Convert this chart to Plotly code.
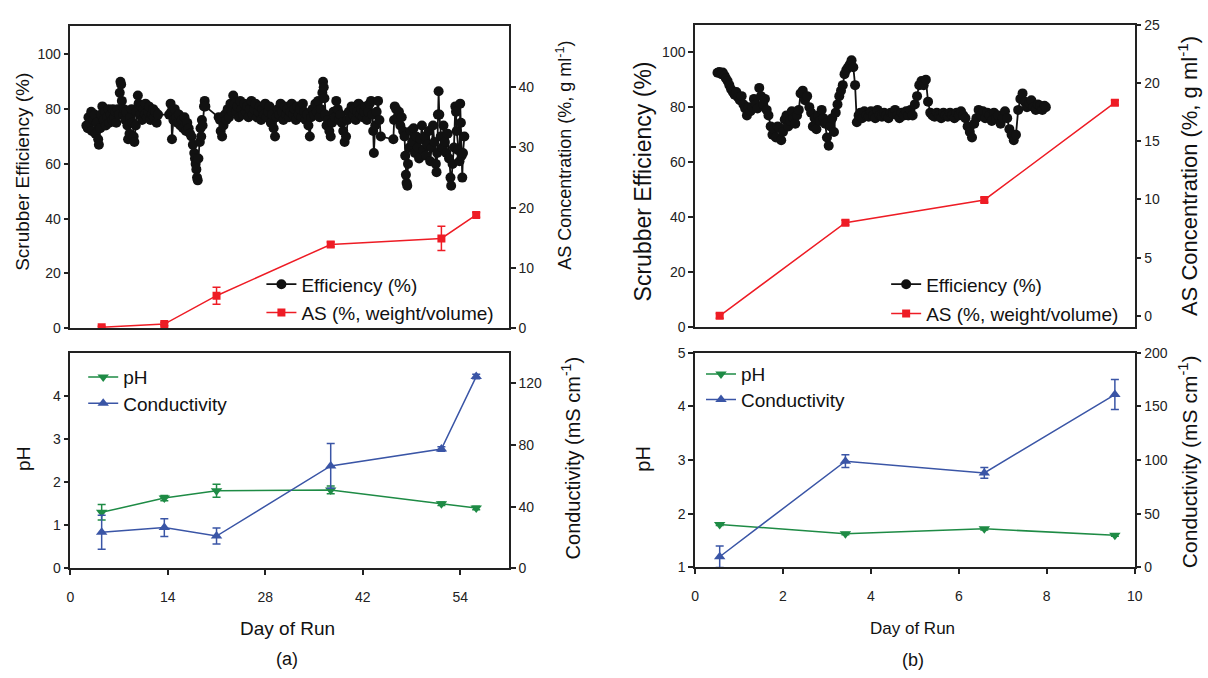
import plotly.graph_objects as go

W, H = 1208, 678


def fx(p):
    return p / W


def fy(p):
    return 1 - p / H


FONT = "Arial, Liberation Sans, sans-serif"
BLACK = "#111111"
RED = "#EE1C25"
GREEN = "#1E8B45"
BLUE = "#3A55A6"

# ---------------- (a) data ----------------
eff_a_day = [
    2.3, 2.5, 2.6, 2.8, 3.0, 3.1, 3.3, 3.5, 3.6, 3.8, 4.0, 4.1, 4.3, 4.4, 4.6, 4.8, 5.0, 5.1, 5.3, 5.5,
    5.6, 5.8, 6.0, 6.1, 6.3, 6.5, 6.6, 6.8, 7.0,
    7.1, 7.2, 7.3, 7.4, 7.6, 7.7, 7.9, 8.0, 8.2, 8.3, 8.5, 8.6, 8.8, 8.9, 9.1, 9.2, 9.4, 9.5, 9.7, 9.8,
    10.0, 10.2, 10.3, 10.5, 10.7, 10.8, 11.0, 11.2, 11.3, 11.5, 11.7, 11.9, 12.0, 12.2, 12.4, 12.6,
    14.2, 14.4, 14.5, 14.6, 14.8, 15.0, 15.2, 15.4, 15.6, 15.8, 16.0, 16.2, 16.4, 16.6, 16.8, 17.0,
    17.2, 17.4, 17.6, 17.8, 17.9, 18.0, 18.1, 18.2, 18.3, 18.4, 18.6, 18.7, 18.8, 18.9, 19.0, 19.2,
    19.3, 19.4,
    21.3, 21.5, 21.6, 21.8, 22.0, 22.2, 22.4, 22.6, 22.8, 23.0, 23.2, 23.4, 23.6, 23.8, 24.0, 24.2,
    24.4, 24.6, 24.8, 25.0, 25.2, 25.4, 25.6, 25.8, 26.0, 26.2, 26.4, 26.6, 26.8, 27.0, 27.2, 27.4,
    27.6, 27.8, 28.0, 28.2, 28.4, 28.6, 28.8, 29.0, 29.2, 29.4, 29.6, 29.8, 30.0, 30.2, 30.4, 30.6,
    30.8, 31.0, 31.2, 31.4, 31.6, 31.8, 32.0, 32.2, 32.4, 32.6, 32.8, 33.0, 33.2, 33.4, 33.6, 33.8,
    34.0, 34.2, 34.4, 34.6, 34.8, 35.0, 35.2, 35.4, 35.6, 35.8, 36.0, 36.2, 36.3, 36.4, 36.5, 36.6,
    36.8, 37.0, 37.2, 37.4, 37.6, 37.8, 38.0, 38.2, 38.4, 38.6, 38.8, 39.0, 39.2, 39.4, 39.6, 39.8,
    40.0, 40.2, 40.4, 40.6, 40.8, 41.0, 41.2, 41.4, 41.6, 41.8, 42.0, 42.2, 42.4, 42.6, 42.8, 43.0,
    43.2, 43.4, 43.5, 43.6, 43.8, 44.0, 44.2, 44.4, 44.6,
    46.4, 46.5, 46.6, 46.8, 47.0, 47.2, 47.4, 47.6, 47.8, 48.0, 48.1, 48.2, 48.3, 48.4, 48.5, 48.7,
    48.9, 49.1, 49.3, 49.5, 49.7, 49.9, 50.1, 50.3, 50.5, 50.7, 50.9, 51.1, 51.3, 51.5, 51.7, 51.9,
    52.1, 52.3, 52.5, 52.6, 52.7, 52.8, 52.9, 53.0, 53.2, 53.4, 53.6, 53.8, 54.0, 54.2, 54.4, 54.6,
    54.7, 54.9, 55.1, 55.3, 55.4, 55.5, 55.7, 55.9, 56.0, 56.1, 56.2, 56.3, 56.4, 56.6,
]
eff_a_val = [
    74, 73, 77, 75, 79, 72, 76, 78, 71, 75, 69, 67, 73, 78, 81, 76, 79, 74, 77, 80,
    75, 78, 76, 80, 77, 79, 75, 80, 78,
    86, 90, 89, 83, 78, 80, 76, 79, 74, 69, 71, 77, 80, 75, 70, 68, 74, 79, 85, 82,
    78, 81, 76, 80, 78, 82, 77, 79, 81, 76, 78, 80, 77, 79, 75, 78,
    78, 82, 79, 69, 76, 80, 77, 75, 78, 74, 76, 73, 77, 72, 75, 73,
    71, 70, 67, 64, 62, 60, 58, 55, 54, 62, 68, 73, 70, 76, 74, 81,
    83, 81,
    77, 76, 72, 70, 74, 78, 76, 80, 77, 82, 79, 85, 82, 79, 81, 77,
    83, 80, 78, 82, 79, 81, 77, 80, 83, 78, 80, 82, 77, 79, 81, 76,
    80, 78, 82, 77, 79, 81, 75, 78, 73, 70, 77, 80, 78, 82, 79, 76,
    81, 78, 80, 77, 79, 82, 78, 80, 76, 81, 78, 80, 77, 82, 79, 76,
    78, 74, 70, 77, 80, 78, 82, 79, 83, 77, 80, 86, 90, 88, 84, 78,
    74, 76, 72, 70, 75, 79, 77, 83, 80, 76, 78, 75, 72, 68, 70, 76,
    79, 77, 81, 78, 80, 76, 79, 82, 78, 80, 77, 79, 81, 76, 79, 82,
    83, 78, 72, 64, 74, 79, 83, 76, 70,
    69, 76, 81, 80, 77, 79, 74, 77, 72, 70, 63, 56, 53, 52, 60, 66,
    72, 68, 73, 64, 70, 66, 62, 69, 74, 65, 70, 63, 67, 72, 61, 66,
    74, 68, 60, 57, 64, 78, 86.5, 78, 70, 66, 74, 68, 64, 71, 62, 55,
    52, 60, 66, 81, 79, 72, 65, 61, 82, 75, 63, 55, 64, 70,
]

samp_a_day = [4.5, 13.5, 21.0, 37.4, 53.3, 58.3]
as_a_val = [0.15, 0.7, 5.4, 13.9, 14.9, 18.8]
as_a_err = [0.2, 0.3, 1.4, 0.4, 2.0, 0.4]
ph_a_val = [1.30, 1.63, 1.80, 1.82, 1.50, 1.40]
ph_a_err = [0.18, 0.06, 0.15, 0.09, 0.04, 0.04]
cond_a_val = [23.5, 26.5, 21.0, 66.5, 77.5, 124.5]
cond_a_err = [11.0, 5.8, 5.2, 14.5, 1.5, 1.5]

# ---------------- (b) data ----------------
eff_b_day = [
    0.51, 0.55, 0.60, 0.63, 0.67, 0.70, 0.74, 0.78, 0.82, 0.86, 0.90, 0.94, 0.98, 1.02, 1.06, 1.10,
    1.14, 1.18, 1.22, 1.26, 1.30, 1.34, 1.38, 1.42, 1.46, 1.50, 1.55, 1.59, 1.63, 1.67, 1.72, 1.76,
    1.80, 1.84, 1.88, 1.92, 1.96, 2.00, 2.04, 2.08, 2.12, 2.16, 2.20, 2.24, 2.28, 2.32, 2.36, 2.40,
    2.45, 2.50, 2.55, 2.60, 2.64, 2.68, 2.72, 2.76, 2.80, 2.84, 2.88, 2.92, 2.96, 3.00, 3.04, 3.08,
    3.12, 3.16, 3.20, 3.24, 3.28, 3.32, 3.36, 3.40, 3.44, 3.48, 3.52, 3.56, 3.60, 3.64, 3.68, 3.72,
    3.76, 3.80, 3.85, 3.90, 3.95, 4.00, 4.05, 4.10, 4.15, 4.20, 4.25, 4.30, 4.35, 4.40, 4.45, 4.50,
    4.55, 4.60, 4.65, 4.70, 4.75, 4.80, 4.85, 4.90, 4.95, 5.00, 5.05, 5.10, 5.15, 5.20, 5.25, 5.30,
    5.35, 5.40, 5.45, 5.50, 5.55, 5.60, 5.65, 5.70, 5.75, 5.80, 5.85, 5.90, 5.95, 6.00, 6.05, 6.10,
    6.15, 6.20, 6.25, 6.30, 6.35, 6.40, 6.45, 6.50, 6.55, 6.60, 6.65, 6.70, 6.75, 6.80, 6.85, 6.90,
    6.95, 7.00, 7.05, 7.10, 7.15, 7.20, 7.25, 7.30, 7.35, 7.40, 7.45, 7.50, 7.55, 7.60, 7.65, 7.70,
    7.75, 7.80, 7.85, 7.90, 7.95, 7.98,
]
eff_b_val = [
    92.5, 92.8, 92.0, 92.6, 91.5, 90.5, 89.5, 88.0, 86.5, 85.5, 84.5, 85.5, 83.5, 82.5, 84, 81,
    79.5, 77, 80, 78.5, 80, 83, 81, 79.5, 87, 84, 81, 83, 79, 77, 73, 70,
    72, 69, 73, 72.5, 68, 71, 75.5, 77, 73, 75, 78.5, 76, 74, 77, 79, 85,
    86, 82.5, 84, 80, 78, 73, 76, 72, 77, 75, 79, 76, 74, 69, 66, 73,
    76, 71, 78, 81, 84, 86, 88, 92, 93.5, 94.5, 95.5, 97, 94.5, 88, 74.5, 77,
    78, 76, 78.5, 77, 76.5, 78.5, 77, 76, 79, 77, 76.5, 78, 77, 76, 78, 77.5,
    79, 77, 76, 78, 77, 78.5, 77, 79, 77, 81, 84, 88, 89.5, 88, 90, 82,
    78, 77, 76.5, 78, 77, 76, 78, 77, 76.5, 78, 77, 76, 78, 77, 78.5, 77,
    76, 73, 71, 69, 74, 76, 79, 77, 78.5, 76, 78, 77, 75, 78, 76, 77,
    74, 76, 78.5, 76, 72, 70, 68, 70, 79, 83, 85, 82, 80, 81.5, 82.5, 80,
    79, 81, 80.5, 79, 80.5, 80,
]

samp_b_day = [0.56, 3.42, 6.58, 9.55]
as_b_val = [0.0, 8.0, 9.95, 18.3]
as_b_err = [0.2, 0.2, 0.2, 0.2]
ph_b_val = [1.80, 1.63, 1.72, 1.60]
ph_b_err = [0.02, 0.02, 0.02, 0.02]
cond_b_val = [10, 99, 88, 161]
cond_b_err = [10, 6, 5, 14]

# ---------------- axis ticks ----------------
xa_tickvals = [0, 14, 28, 42, 56]
xa_ticktext = ["0", "14", "28", "42", "54"]
xb_tickvals = [0, 2, 4, 6, 8, 10]
eff_ticks = [0, 20, 40, 60, 80, 100]
as_a_ticks = [0, 10, 20, 30, 40]
as_b_ticks = [0, 5, 10, 15, 20, 25]
ph_a_ticks = [0, 1, 2, 3, 4]
cond_a_ticks = [0, 40, 80, 120]
ph_b_ticks = [1, 2, 3, 4, 5]
cond_b_ticks = [0, 50, 100, 150, 200]

fig = go.Figure()


def errbar(arr, color):
    return dict(type="data", array=arr, color=color, thickness=1.5, width=4, visible=True)


# (a) top
fig.add_trace(go.Scatter(x=eff_a_day, y=eff_a_val, mode="lines+markers", name="Efficiency (%)",
                         line=dict(color=BLACK, width=1.8), marker=dict(color=BLACK, size=10),
                         xaxis="x", yaxis="y", legend="legend"))
fig.add_trace(go.Scatter(x=samp_a_day, y=as_a_val, mode="lines+markers", name="AS (%, weight/volume)",
                         line=dict(color=RED, width=1.5), marker=dict(color=RED, size=8, symbol="square"),
                         error_y=errbar(as_a_err, RED), xaxis="x", yaxis="y2", legend="legend2"))
# (a) bottom
fig.add_trace(go.Scatter(x=samp_a_day, y=ph_a_val, mode="lines+markers", name="pH",
                         line=dict(color=GREEN, width=1.5),
                         marker=dict(color=GREEN, size=10, symbol="triangle-down"),
                         error_y=errbar(ph_a_err, GREEN), xaxis="x2", yaxis="y3", legend="legend3"))
fig.add_trace(go.Scatter(x=samp_a_day, y=cond_a_val, mode="lines+markers", name="Conductivity",
                         line=dict(color=BLUE, width=1.5),
                         marker=dict(color=BLUE, size=10, symbol="triangle-up"),
                         error_y=errbar(cond_a_err, BLUE), xaxis="x2", yaxis="y4", legend="legend4"))
# (b) top
fig.add_trace(go.Scatter(x=eff_b_day, y=eff_b_val, mode="lines+markers", name="Efficiency (%)",
                         line=dict(color=BLACK, width=1.8), marker=dict(color=BLACK, size=10),
                         xaxis="x3", yaxis="y5", legend="legend5"))
fig.add_trace(go.Scatter(x=samp_b_day, y=as_b_val, mode="lines+markers", name="AS (%, weight/volume)",
                         line=dict(color=RED, width=1.5), marker=dict(color=RED, size=8, symbol="square"),
                         error_y=errbar(as_b_err, RED), xaxis="x3", yaxis="y6", legend="legend6"))
# (b) bottom
fig.add_trace(go.Scatter(x=samp_b_day, y=ph_b_val, mode="lines+markers", name="pH",
                         line=dict(color=GREEN, width=1.5),
                         marker=dict(color=GREEN, size=10, symbol="triangle-down"),
                         error_y=errbar(ph_b_err, GREEN), xaxis="x4", yaxis="y7", legend="legend7"))
fig.add_trace(go.Scatter(x=samp_b_day, y=cond_b_val, mode="lines+markers", name="Conductivity",
                         line=dict(color=BLUE, width=1.5),
                         marker=dict(color=BLUE, size=10, symbol="triangle-up"),
                         error_y=errbar(cond_b_err, BLUE), xaxis="x4", yaxis="y8", legend="legend8"))

AX = "#222222"
TICKFONT = dict(family=FONT, size=14, color="#222222")


def xax(domain, rng, anchor, tickvals=None, ticktext=None, labels=True):
    d = dict(domain=domain, range=rng, anchor=anchor, showline=True, linecolor=AX, linewidth=1.6,
             mirror=True, showgrid=False, zeroline=False, tickfont=TICKFONT, fixedrange=True)
    if labels:
        d.update(tickvals=tickvals, ticktext=ticktext, ticks="outside", ticklen=5, tickwidth=1.5,
                 tickcolor=AX, showticklabels=True, ticklabelstandoff=10)
    else:
        d.update(ticks="", showticklabels=False)
    return d


def yax(domain, rng, anchor, tickvals, side="left", overlay=None):
    d = dict(range=rng, anchor=anchor, side=side, showline=True, linecolor=AX, linewidth=1.6,
             showgrid=False, zeroline=False, tickvals=tickvals, ticks="outside", ticklen=5,
             tickwidth=1.5, tickcolor=AX, tickfont=TICKFONT, fixedrange=True)
    if overlay:
        d["overlaying"] = overlay
    else:
        d["domain"] = domain
    return d


xa_dom = [fx(67), fx(510)]
xb_dom = [fx(698), fx(1142)]
top_a = [fy(328), fy(18)]
bot_a = [fy(574), fy(353)]
top_b = [fy(327), fy(17)]
bot_b = [fy(573), fy(353)]

LEG = dict(xanchor="left", yanchor="middle", bgcolor="rgba(0,0,0,0)", borderwidth=0,
           font=dict(family=FONT, size=19, color="#111111"))


def leg(x, y):
    d = dict(LEG)
    d.update(x=fx(x), y=fy(y))
    return d


fig.update_layout(
    width=W, height=H, margin=dict(l=0, r=0, t=0, b=0),
    paper_bgcolor="white", plot_bgcolor="white",
    font=dict(family=FONT, color="#111111"),
    xaxis=xax(xa_dom, [0, 63], "y", labels=False),
    yaxis=yax(top_a, [0, 110.5], "x", eff_ticks),
    yaxis2=yax(None, [0, 50.2], "x", as_a_ticks, side="right", overlay="y"),
    xaxis2=xax(xa_dom, [0, 63], "y3", xa_tickvals, xa_ticktext),
    yaxis3=yax(bot_a, [0, 5], "x2", ph_a_ticks),
    yaxis4=yax(None, [0, 140], "x2", cond_a_ticks, side="right", overlay="y3"),
    xaxis3=xax(xb_dom, [0, 10], "y5", labels=False),
    yaxis5=yax(top_b, [0, 110], "x3", eff_ticks),
    yaxis6=yax(None, [-0.98, 25], "x3", as_b_ticks, side="right", overlay="y5"),
    xaxis4=xax(xb_dom, [0, 10], "y7", xb_tickvals, [str(v) for v in xb_tickvals]),
    yaxis7=yax(bot_b, [1, 5], "x4", ph_b_ticks),
    yaxis8=yax(None, [0, 200], "x4", cond_b_ticks, side="right", overlay="y7"),
    legend=leg(260, 283),
    legend2=leg(260, 312),
    legend3=leg(80, 378),
    legend4=leg(80, 405),
    legend5=leg(891, 283),
    legend6=leg(891, 313),
    legend7=leg(704, 375),
    legend8=leg(704, 401),
    showlegend=True,
)

ann = []


def text(x, y, s, size, angle=0):
    ann.append(dict(x=fx(x), y=fy(y), xref="paper", yref="paper", text=s, showarrow=False,
                    textangle=angle, xanchor="center", yanchor="middle",
                    font=dict(family=FONT, size=size, color="#111111")))


text(18, 168, "Scrubber Efficiency (%)", 19, -90)
text(566, 151, "AS Concentration (%, g ml<sup>-1</sup>)", 18, -90)
text(19, 462, "pH", 19, -90)
text(572, 461, "Conductivity (mS cm<sup>-1</sup>)", 20, -90)
text(286, 635, "Day of Run", 19)
text(286, 667, "(a)", 18)

text(645, 178, "Scrubber Efficiency (%)", 23, -90)
text(1196, 172, "AS Concentration (%, g ml<sup>-1</sup>)", 22, -90)
text(646, 462, "pH", 20, -90)
text(1196, 465, "Conductivity (mS cm<sup>-1</sup>)", 21, -90)
text(918, 635, "Day of Run", 17)
text(918, 668, "(b)", 18)

fig.update_layout(annotations=ann)

fig.write_html("out.html")
